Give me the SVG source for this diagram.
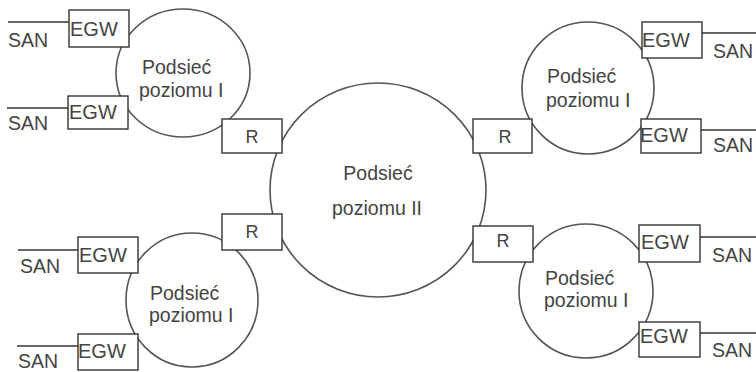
<svg xmlns="http://www.w3.org/2000/svg" width="756" height="372" viewBox="0 0 756 372">
  <style>
    .net { fill: none; stroke: #555; stroke-width: 1.6; }
    .box { fill: #fff; stroke: #333; stroke-width: 1.4; }
    .link { stroke: #333; stroke-width: 1.4; fill: none; }
    text { font-family: "Liberation Sans", Arial, sans-serif; fill: #444; }
    .lbl { font-size: 19.5px; }
    .egw { font-size: 20px; }
    .san { font-size: 19.5px; }
    .r { font-size: 18px; text-anchor: middle; }
  </style>
  <rect width="756" height="372" fill="#fff"/>

  <!-- Level II subnetwork -->
  <g id="core">
    <ellipse class="net" cx="378" cy="190" rx="108" ry="107"/>
    <text class="lbl" x="378" y="180" text-anchor="middle">Podsieć</text>
    <text class="lbl" x="377" y="215" text-anchor="middle">poziomu II</text>
  </g>

  <!-- Level I subnetworks -->
  <g id="net-tl">
    <ellipse class="net" cx="183" cy="73" rx="67" ry="64"/>
    <text class="lbl" x="142" y="74">Podsieć</text>
    <text class="lbl" x="139" y="97">poziomu I</text>
  </g>
  <g id="net-tr">
    <ellipse class="net" cx="588" cy="88" rx="66" ry="66"/>
    <text class="lbl" x="547" y="83">Podsieć</text>
    <text class="lbl" x="546" y="107">poziomu I</text>
  </g>
  <g id="net-bl">
    <ellipse class="net" cx="192" cy="300" rx="66" ry="67"/>
    <text class="lbl" x="150" y="300">Podsieć</text>
    <text class="lbl" x="149" y="322">poziomu I</text>
  </g>
  <g id="net-br">
    <ellipse class="net" cx="586" cy="291" rx="67" ry="67"/>
    <text class="lbl" x="545" y="285">Podsieć</text>
    <text class="lbl" x="544" y="307">poziomu I</text>
  </g>

  <!-- SAN links -->
  <g id="connectors">
    <line class="link" x1="8" y1="22" x2="69" y2="22"/>
    <line class="link" x1="7" y1="108" x2="68" y2="108"/>
    <line class="link" x1="702" y1="33" x2="756" y2="33"/>
    <line class="link" x1="701" y1="130" x2="756" y2="130"/>
    <line class="link" x1="18" y1="250" x2="78" y2="250"/>
    <line class="link" x1="17" y1="346" x2="78" y2="346"/>
    <line class="link" x1="700" y1="237" x2="756" y2="237"/>
    <line class="link" x1="700" y1="333" x2="756" y2="333"/>
  </g>

  <!-- Routers -->
  <g id="r-tl"><rect class="box" x="222" y="119" width="60" height="34"/><text class="r" x="252" y="143">R</text></g>
  <g id="r-bl"><rect class="box" x="222" y="214" width="60" height="36"/><text class="r" x="252" y="238">R</text></g>
  <g id="r-tr"><rect class="box" x="473" y="119" width="59" height="34"/><text class="r" x="505" y="143">R</text></g>
  <g id="r-br"><rect class="box" x="473" y="226" width="60" height="36"/><text class="r" x="503" y="247">R</text></g>

  <!-- Edge gateways -->
  <g id="egw-tl1"><rect class="box" x="69" y="10" width="60" height="37"/><text class="egw" x="70" y="36">EGW</text></g>
  <g id="egw-tl2"><rect class="box" x="68" y="96" width="60" height="33"/><text class="egw" x="69" y="119">EGW</text></g>
  <g id="egw-tr1"><rect class="box" x="642" y="22" width="60" height="36"/><text class="egw" x="642" y="47">EGW</text></g>
  <g id="egw-tr2"><rect class="box" x="641" y="119" width="60" height="34"/><text class="egw" x="640" y="142">EGW</text></g>
  <g id="egw-bl1"><rect class="box" x="78" y="237" width="60" height="36"/><text class="egw" x="79" y="262">EGW</text></g>
  <g id="egw-bl2"><rect class="box" x="78" y="334" width="60" height="36"/><text class="egw" x="78" y="358">EGW</text></g>
  <g id="egw-br1"><rect class="box" x="639" y="225" width="61" height="37"/><text class="egw" x="641" y="249">EGW</text></g>
  <g id="egw-br2"><rect class="box" x="639" y="322" width="61" height="35"/><text class="egw" x="640" y="343">EGW</text></g>

  <!-- SAN labels -->
  <g id="san-labels">
    <text class="san" x="8" y="47">SAN</text>
    <text class="san" x="8" y="130">SAN</text>
    <text class="san" x="713" y="58">SAN</text>
    <text class="san" x="713" y="152">SAN</text>
    <text class="san" x="20" y="273">SAN</text>
    <text class="san" x="18" y="368">SAN</text>
    <text class="san" x="712" y="262">SAN</text>
    <text class="san" x="712" y="357">SAN</text>
  </g>
</svg>
